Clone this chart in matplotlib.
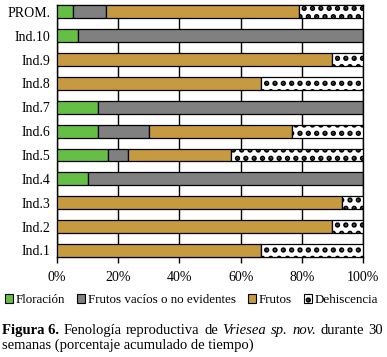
import matplotlib
matplotlib.use("Agg")
import matplotlib.pyplot as plt
from matplotlib.patches import Patch
import numpy as np

plt.rcParams['font.family'] = ['Liberation Serif', 'DejaVu Serif']
plt.rcParams['hatch.linewidth'] = 2.6

categories = ['Ind.1', 'Ind.2', 'Ind.3', 'Ind.4', 'Ind.5', 'Ind.6', 'Ind.7',
              'Ind.8', 'Ind.9', 'Ind.10', 'PROM.']
floracion = [0, 0, 0, 10.0, 16.7, 13.3, 13.3, 0, 0, 6.7, 5.3]
vacios = [0, 0, 0, 90.0, 6.6, 16.7, 86.7, 0, 0, 93.3, 10.6]
frutos = [66.7, 90.0, 93.3, 0, 33.4, 46.7, 0, 66.7, 90.0, 0, 63.3]
dehiscencia = [33.3, 10.0, 6.7, 0, 43.3, 23.3, 0, 33.3, 10.0, 0, 20.8]
series_names = ['Floración', 'Frutos vacíos o no evidentes', 'Frutos', 'Dehiscencia']
xticks = [0, 20, 40, 60, 80, 100]

W, H = 387, 357
fig = plt.figure(figsize=(W/100, H/100), dpi=100)
ax = fig.add_axes([57/W, 1-257.3/H, (363-57)/W, (257.3-5)/H])

colors = ['#66bf45', '#808080', '#c69a3e', 'white']
hatches = [None, None, None, '..']
y = np.arange(len(categories))
left = np.zeros(len(categories))
h = 0.54
for vals, c, ht in zip([floracion, vacios, frutos, dehiscencia], colors, hatches):
    v = np.array(vals)
    ax.barh(y, v, left=left, height=h, color=c, edgecolor='black', linewidth=0.9,
            hatch=ht, zorder=3)
    left += v

ax.set_xlim(0, 100)
ax.set_ylim(-0.29, 10.29)
ax.set_yticks(y)
ax.set_yticklabels(categories, fontsize=10)
ax.set_xticks(xticks)
ax.set_xticklabels([f'{t}%' for t in xticks], fontsize=10)
ax.tick_params(axis='y', length=0, pad=5)
ax.tick_params(axis='x', length=4, width=1, pad=6)
ax.xaxis.grid(True, color='black', linewidth=1, zorder=0)
for s in ax.spines.values():
    s.set_linewidth(1)
    s.set_color('black')

handles = [Patch(facecolor=c, edgecolor='black', hatch=hh, linewidth=0.8)
           for c, hh in zip(colors, hatches)]
fig.legend(handles, series_names, loc='center', bbox_to_anchor=(0.495, 1-300/H),
           ncol=4, frameon=False, fontsize=9.4, handlelength=0.6, handleheight=0.6,
           handletextpad=0.25, columnspacing=0.9, borderpad=0)

fs = 10.5
words1 = [('Figura 6.', 'bold', 'normal'), ('Fenología', 'normal', 'normal'),
          ('reproductiva', 'normal', 'normal'), ('de', 'normal', 'normal'),
          ('Vriesea', 'normal', 'italic'), ('sp.', 'normal', 'italic'),
          ('nov.', 'normal', 'italic'), ('durante', 'normal', 'normal'),
          ('30', 'normal', 'normal')]
fig.canvas.draw()
renderer = fig.canvas.get_renderer()
texts = []
widths = []
for w, wt, st in words1:
    t = fig.text(0, 1-334/H, w, fontsize=fs, fontweight=wt, fontstyle=st,
                 ha='left', va='baseline')
    texts.append(t)
    widths.append(t.get_window_extent(renderer).width)
x0, x1 = 2, 383
gap = (x1 - x0 - sum(widths)) / (len(texts) - 1)
xp = x0
for t, wd in zip(texts, widths):
    t.set_x(xp / W)
    xp += wd + gap
fig.text(2/W, 1-349/H, 'semanas (porcentaje acumulado de tiempo)', fontsize=fs,
         ha='left', va='baseline')

fig.savefig('out.png', dpi=100)
